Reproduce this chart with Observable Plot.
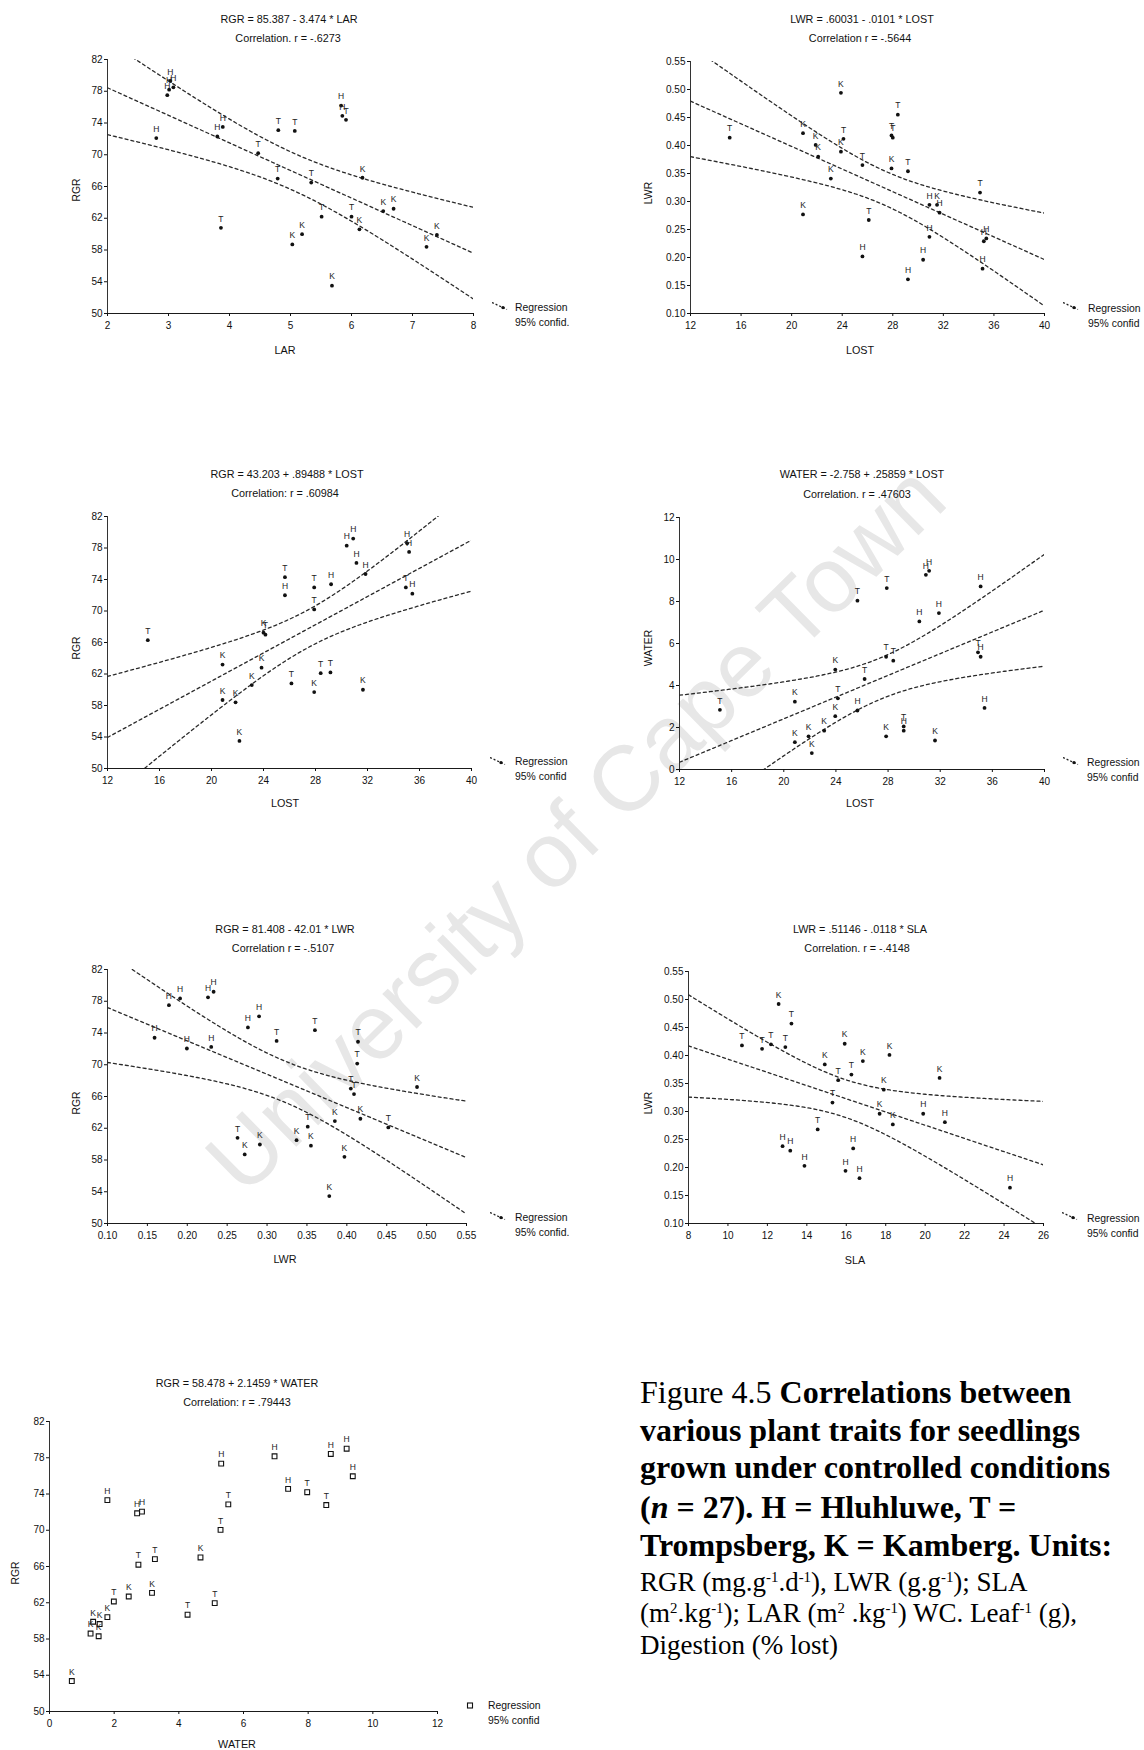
<!DOCTYPE html>
<html>
<head>
<meta charset="utf-8">
<script src="https://cdn.jsdelivr.net/npm/d3@7"></script>
<script src="https://cdn.jsdelivr.net/npm/@observablehq/plot@0.6"></script>
<style>
  body { margin: 0; background: #fff; }
  #page { position: relative; width: 1144px; height: 1750px; overflow: hidden; background: #fff;
          font-family: "Liberation Sans", Arial, sans-serif; color: #111; }
  .t { position: absolute; white-space: nowrap; font-size: 10.8px; line-height: 12px; transform: translate(-50%, -50%); }
  .l { position: absolute; white-space: nowrap; font-size: 10.4px; line-height: 12px; transform: translateY(-50%); }
  .yl { position: absolute; white-space: nowrap; font-size: 10.4px; line-height: 12px; transform: translate(-50%, -50%) rotate(-90deg); }
  .wm { position: absolute; left: 575px; top: 828px; white-space: nowrap; font-size: 92px; line-height: 100px;
        color: #e7e7e7; transform: translate(-50%, -50%) rotate(-44.5deg); pointer-events: none; }
  .cap { position: absolute; left: 640px; white-space: nowrap; font-family: "Liberation Serif", "Times New Roman", serif;
         transform: translateY(-50%); color: #000; }
  .cap.b { font-size: 32px; line-height: 36px; font-weight: bold; }
  .cap.n { font-size: 27px; line-height: 30px; }
  .cap sup { font-size: 0.55em; line-height: 0; vertical-align: 0.6em; }
</style>
</head>
<body>
<div id="page">
  <div class="wm">University of Cape Town</div>
</div>
<script>
// Seedlings (n = 27): site code, x value, y value for each correlation panel.
// H = Hluhluwe, T = Trompsberg, K = Kamberg.
const larRgr = [
  ["H",2.80,72.1],["H",2.98,77.5],["H",3.01,78.2],["H",3.08,78.5],["H",3.03,79.3],["H",3.80,72.3],["H",3.89,73.5],["H",5.83,76.2],["H",5.85,74.9],
  ["T",3.86,60.8],["T",4.47,70.2],["T",4.80,73.1],["T",5.07,73.0],["T",4.79,67.0],["T",5.34,66.5],["T",5.51,62.2],["T",6.00,62.2],["T",5.91,74.4],
  ["K",5.03,58.7],["K",5.19,60.0],["K",5.68,53.5],["K",6.13,60.6],["K",6.18,67.1],["K",6.52,62.9],["K",6.69,63.2],["K",7.23,58.4],["K",7.40,59.9]
];
const lostLwr = [
  ["H",25.6,0.202],["H",29.2,0.161],["H",30.4,0.196],["H",30.9,0.237],["H",30.9,0.294],["H",31.7,0.280],["H",35.1,0.180],["H",35.2,0.229],["H",35.4,0.234],
  ["T",15.1,0.414],["T",24.1,0.412],["T",25.6,0.365],["T",26.1,0.267],["T",27.9,0.418],["T",28.0,0.414],["T",28.4,0.455],["T",29.2,0.354],["T",34.9,0.316],
  ["K",20.9,0.422],["K",21.9,0.401],["K",22.1,0.380],["K",23.1,0.341],["K",20.9,0.277],["K",23.9,0.494],["K",23.9,0.389],["K",27.9,0.359],["K",31.5,0.294]
];
const lostRgr = [
  ["H",25.65,72.0],["H",29.2,73.4],["H",30.4,78.3],["H",30.9,79.2],["H",31.15,76.1],["H",31.85,74.7],["H",35.05,78.6],["H",35.2,77.5],["H",35.45,72.2],
  ["T",15.1,66.3],["T",24.15,67.0],["T",25.65,74.3],["T",26.15,60.8],["T",27.9,73.0],["T",27.9,70.2],["T",28.4,62.1],["T",29.15,62.2],["T",34.95,73.0],
  ["K",20.85,63.2],["K",20.85,58.7],["K",21.85,58.4],["K",22.15,53.5],["K",23.1,60.6],["K",23.85,62.8],["K",24.0,67.25],["K",27.9,59.7],["K",31.65,60.0]
];
const lostWater = [
  ["H",25.65,2.81],["H",29.2,1.85],["H",30.4,7.05],["H",30.9,9.27],["H",31.15,9.46],["H",31.9,7.45],["H",35.1,8.72],["H",35.1,5.37],["H",35.4,2.93],
  ["T",15.1,2.84],["T",24.15,3.39],["T",25.65,8.04],["T",26.2,4.31],["T",27.9,8.64],["T",27.85,5.37],["T",28.4,5.18],["T",29.2,2.05],["T",34.9,5.58],
  ["K",20.85,3.23],["K",20.85,1.30],["K",21.9,1.58],["K",22.15,0.78],["K",23.1,1.85],["K",23.95,2.54],["K",23.95,4.76],["K",27.85,1.58],["K",31.6,1.38]
];
const lwrRgr = [
  ["H",0.159,73.4],["H",0.177,77.5],["H",0.191,78.35],["H",0.1995,72.05],["H",0.226,78.5],["H",0.233,79.2],["H",0.230,72.25],["H",0.276,74.7],["H",0.290,76.1],
  ["T",0.263,60.8],["T",0.312,73.0],["T",0.351,62.2],["T",0.360,74.35],["T",0.414,72.9],["T",0.413,70.15],["T",0.405,67.0],["T",0.409,66.3],["T",0.452,62.1],
  ["K",0.272,58.7],["K",0.291,59.95],["K",0.337,60.5],["K",0.355,59.8],["K",0.378,53.45],["K",0.385,62.9],["K",0.397,58.4],["K",0.417,63.2],["K",0.488,67.2]
];
const slaLwr = [
  ["H",19.9,0.296],["H",21.0,0.281],["H",12.77,0.238],["H",13.16,0.230],["H",13.88,0.203],["H",15.96,0.194],["H",16.35,0.234],["H",16.67,0.181],["H",24.3,0.164],
  ["T",13.22,0.457],["T",10.71,0.418],["T",11.73,0.412],["T",12.18,0.420],["T",12.91,0.415],["T",15.59,0.356],["T",16.26,0.366],["T",15.3,0.316],["T",14.55,0.268],
  ["K",12.57,0.492],["K",14.91,0.384],["K",15.92,0.421],["K",16.84,0.390],["K",18.19,0.401],["K",17.9,0.339],["K",20.73,0.360],["K",17.69,0.296],["K",18.36,0.277]
];
const waterRgr = [
  ["H",1.79,73.33],["H",2.71,71.87],["H",2.86,72.05],["H",5.31,77.35],["H",6.96,78.16],["H",7.38,74.57],["H",8.70,78.42],["H",9.19,79.0],["H",9.38,75.96],
  ["T",1.99,62.14],["T",2.75,66.2],["T",3.26,66.82],["T",4.27,60.68],["T",5.11,61.96],["T",5.29,70.04],["T",5.53,72.86],["T",7.97,74.2],["T",8.56,72.78],
  ["K",0.69,53.36],["K",1.27,58.6],["K",1.52,58.3],["K",1.55,59.65],["K",1.35,59.9],["K",1.79,60.42],["K",2.45,62.69],["K",3.17,63.09],["K",4.67,67.0]
];

// Fitted equations [intercept, slope] and correlation coefficients
const larFit = [85.387, -3.474],   larR = -0.6273;
const lostLwrFit = [0.60031, -0.0101], lostLwrR = -0.5644;
const lostRgrFit = [43.203, 0.89488],  lostRgrR = 0.60984;
const lostWaterFit = [-2.758, 0.25859], lostWaterR = 0.47603;
const lwrFit = [81.408, -42.01],   lwrR = -0.5107;
const slaFit = [0.51146, -0.0118], slaR = -0.4148;
const waterFit = [58.478, 2.1459], waterR = 0.79443;

// Axis tick values
const rgrTicks = [50, 54, 58, 62, 66, 70, 74, 78, 82];
const larTicks = [2, 3, 4, 5, 6, 7, 8];
const lostTicks = [12, 16, 20, 24, 28, 32, 36, 40];
const lwrTicks = [0.10, 0.15, 0.20, 0.25, 0.30, 0.35, 0.40, 0.45, 0.50, 0.55];
const waterTicksY = [0, 2, 4, 6, 8, 10, 12];
const slaTicks = [8, 10, 12, 14, 16, 18, 20, 22, 24, 26];
const waterTicksX = [0, 2, 4, 6, 8, 10, 12];

const page = document.getElementById("page");
const f2 = d3.format(".2f");
const fInt = d3.format("d");
const T_25 = 2.0595; // two-sided 95% t quantile, 25 df

// STATISTICA-style number: no leading zero
const num = v => String(v).replace(/^(-?)0\./, "$1.");
function eqText(yName, xName, fit) {
  const sign = fit[1] < 0 ? " - " : " + ";
  return `${yName} = ${num(fit[0])}${sign}${num(Math.abs(fit[1]))} * ${xName}`;
}

function addDiv(cls, html, x, y) {
  const d = document.createElement("div");
  d.className = cls;
  d.innerHTML = html;
  d.style.left = x + "px";
  d.style.top = y + "px";
  page.appendChild(d);
  return d;
}

// Fitted line with its 95% confidence band for the mean
function fitBand(data, fit, domain) {
  const n = data.length;
  const xbar = d3.mean(data, d => d[1]);
  const sxx = d3.sum(data, d => (d[1] - xbar) ** 2);
  const sse = d3.sum(data, d => (d[2] - (fit[0] + fit[1] * d[1])) ** 2);
  const s = Math.sqrt(sse / (n - 2));
  const steps = 120;
  return d3.range(steps + 1).map(i => {
    const x = domain[0] + (domain[1] - domain[0]) * i / steps;
    const yhat = fit[0] + fit[1] * x;
    const h = T_25 * s * Math.sqrt(1 / n + (x - xbar) ** 2 / sxx);
    return {x, fit: yhat, lo: yhat - h, hi: yhat + h};
  });
}

function panel(cfg) {
  const [left, right, top, bottom] = cfg.frame;
  const mL = 40, mR = 6, mT = 6, mB = 26;
  const marks = [
    Plot.ruleY([cfg.yDomain[0]], {stroke: "#1a1a1a", strokeWidth: 1.2}),
    Plot.ruleX([cfg.xDomain[0]], {stroke: "#333", strokeWidth: 1}),
    Plot.axisX({ticks: cfg.xTicks, tickFormat: cfg.xFmt || fInt, tickSize: 3, tickPadding: 5, label: null}),
    Plot.axisY({ticks: cfg.yTicks, tickFormat: cfg.yFmt || fInt, tickSize: 3, tickPadding: 2, label: null})
  ];
  if (cfg.fit) {
    const band = fitBand(cfg.data, cfg.fit, cfg.xDomain);
    for (const key of ["hi", "fit", "lo"]) {
      marks.push(Plot.line(band, {x: "x", y: key, stroke: "#2a2a2a", strokeWidth: 1.3,
        strokeDasharray: "3,3", clip: true}));
    }
  }
  if (cfg.square) {
    marks.push(Plot.dot(cfg.data, {x: d => d[1], y: d => d[2], symbol: "square", r: 2.7,
      fill: "white", stroke: "#111", strokeWidth: 1.1}));
  } else {
    marks.push(Plot.dot(cfg.data, {x: d => d[1], y: d => d[2], r: 1.9, fill: "#111", stroke: "none"}));
  }
  marks.push(Plot.text(cfg.data, {x: d => d[1], y: d => d[2], text: d => d[0], dy: -9,
    fontSize: 8.5, fill: "#222"}));

  const svg = Plot.plot({
    width: right - left + mL + mR,
    height: bottom - top + mT + mB,
    marginLeft: mL, marginRight: mR, marginTop: mT, marginBottom: mB,
    x: {domain: cfg.xDomain},
    y: {domain: cfg.yDomain},
    style: {background: "transparent", overflow: "visible", fontFamily: "Liberation Sans, Arial, sans-serif",
            fontSize: "10px", color: "#111"},
    marks
  });
  svg.style.position = "absolute";
  svg.style.left = (left - mL) + "px";
  svg.style.top = (top - mT) + "px";
  svg.style.maxWidth = "none";
  page.appendChild(svg);

  addDiv("t", cfg.title, cfg.titlePos[0], cfg.titlePos[1]);
  addDiv("t", cfg.corr, cfg.corrPos[0], cfg.corrPos[1]);
  addDiv("t", cfg.xName, cfg.xLabelPos[0], cfg.xLabelPos[1]);
  addDiv("yl", cfg.yName, cfg.yLabelPos[0], cfg.yLabelPos[1]);

  // key
  const [sx, sy] = cfg.keySym, [tx, ty] = cfg.keyText;
  const key = document.createElementNS("http://www.w3.org/2000/svg", "svg");
  key.setAttribute("width", 18); key.setAttribute("height", 10);
  key.style.position = "absolute"; key.style.left = sx + "px"; key.style.top = sy + "px";
  if (cfg.square) {
    key.innerHTML = `<rect x="1.5" y="2" width="5" height="5" fill="white" stroke="#111" stroke-width="1.1"/>`;
  } else {
    key.innerHTML = `<line x1="0" y1="0.5" x2="15" y2="7.5" stroke="#222" stroke-width="1.3" stroke-dasharray="2,2"/>
                     <circle cx="11" cy="5.6" r="1.7" fill="#111"/>`;
  }
  page.appendChild(key);
  addDiv("l", "Regression", tx, ty);
  addDiv("l", cfg.confLabel, tx, ty + 15);
}

const corrText = (r, sep) => `Correlation${sep} r = ${num(r)}`;

panel({data: larRgr, fit: larFit, frame: [107, 473, 59, 313],
  xDomain: [2, 8], yDomain: [50, 82], xTicks: larTicks, yTicks: rgrTicks,
  title: eqText("RGR", "LAR", larFit), corr: corrText(larR, "."),
  titlePos: [289, 19], corrPos: [288, 38], xName: "LAR", xLabelPos: [285, 350],
  yName: "RGR", yLabelPos: [77, 190], keySym: [492, 302], keyText: [515, 308], confLabel: "95% confid."});

panel({data: lostLwr, fit: lostLwrFit, frame: [690, 1044, 61, 313],
  xDomain: [12, 40], yDomain: [0.10, 0.55], xTicks: lostTicks, yTicks: lwrTicks, yFmt: f2,
  title: eqText("LWR", "LOST", lostLwrFit), corr: corrText(lostLwrR, ""),
  titlePos: [862, 19], corrPos: [860, 38], xName: "LOST", xLabelPos: [860, 350],
  yName: "LWR", yLabelPos: [649, 193], keySym: [1063, 302], keyText: [1088, 309], confLabel: "95% confid"});

panel({data: lostRgr, fit: lostRgrFit, frame: [107, 471, 516, 768],
  xDomain: [12, 40], yDomain: [50, 82], xTicks: lostTicks, yTicks: rgrTicks,
  title: eqText("RGR", "LOST", lostRgrFit), corr: corrText(lostRgrR, ":"),
  titlePos: [287, 474], corrPos: [285, 493], xName: "LOST", xLabelPos: [285, 803],
  yName: "RGR", yLabelPos: [77, 648], keySym: [490, 757], keyText: [515, 762], confLabel: "95% confid"});

panel({data: lostWater, fit: lostWaterFit, frame: [679, 1044, 517, 769],
  xDomain: [12, 40], yDomain: [0, 12], xTicks: lostTicks, yTicks: waterTicksY,
  title: eqText("WATER", "LOST", lostWaterFit), corr: corrText(lostWaterR, "."),
  titlePos: [862, 474], corrPos: [857, 494], xName: "LOST", xLabelPos: [860, 803],
  yName: "WATER", yLabelPos: [649, 648], keySym: [1063, 757], keyText: [1087, 763], confLabel: "95% confid"});

panel({data: lwrRgr, fit: lwrFit, frame: [107, 466, 969, 1223],
  xDomain: [0.10, 0.55], yDomain: [50, 82], xTicks: lwrTicks, xFmt: f2, yTicks: rgrTicks,
  title: eqText("RGR", "LWR", lwrFit), corr: corrText(lwrR, ""),
  titlePos: [285, 929], corrPos: [283, 948], xName: "LWR", xLabelPos: [285, 1259],
  yName: "RGR", yLabelPos: [77, 1103], keySym: [490, 1212], keyText: [515, 1218], confLabel: "95% confid."});

panel({data: slaLwr, fit: slaFit, frame: [688, 1043, 971, 1223],
  xDomain: [8, 26], yDomain: [0.10, 0.55], xTicks: slaTicks, yTicks: lwrTicks, yFmt: f2,
  title: eqText("LWR", "SLA", slaFit), corr: corrText(slaR, "."),
  titlePos: [860, 929], corrPos: [857, 948], xName: "SLA", xLabelPos: [855, 1260],
  yName: "LWR", yLabelPos: [649, 1103], keySym: [1062, 1212], keyText: [1087, 1219], confLabel: "95% confid"});

panel({data: waterRgr, fit: null, square: true, frame: [49, 437, 1421, 1711],
  xDomain: [0, 12], yDomain: [50, 82], xTicks: waterTicksX, yTicks: rgrTicks,
  title: eqText("RGR", "WATER", waterFit), corr: corrText(waterR, ":"),
  titlePos: [237, 1383], corrPos: [237, 1402], xName: "WATER", xLabelPos: [237, 1744],
  yName: "RGR", yLabelPos: [16, 1573], keySym: [466, 1701], keyText: [488, 1706], confLabel: "95% confid"});

// Figure caption
const capLines = [
  ["b", 1392, `<span style="font-weight:normal">Figure 4.5</span> Correlations between`],
  ["b", 1430, `various plant traits for seedlings`],
  ["b", 1467, `grown under controlled conditions`],
  ["b", 1507, `(<i>n</i> = 27). H = Hluhluwe, T =`],
  ["b", 1545, `Trompsberg, K = Kamberg. Units:`],
  ["n", 1582, `RGR (mg.g<sup>-1</sup>.d<sup>-1</sup>), LWR (g.g<sup>-1</sup>); SLA`],
  ["n", 1613, `(m<sup>2</sup>.kg<sup>-1</sup>); LAR (m<sup>2</sup> .kg<sup>-1</sup>) WC. Leaf<sup>-1</sup> (g),`],
  ["n", 1645, `Digestion (% lost)`]
];
for (const [w, y, html] of capLines) {
  addDiv("cap " + w, html, 640, y);
}
</script>
</body>
</html>
